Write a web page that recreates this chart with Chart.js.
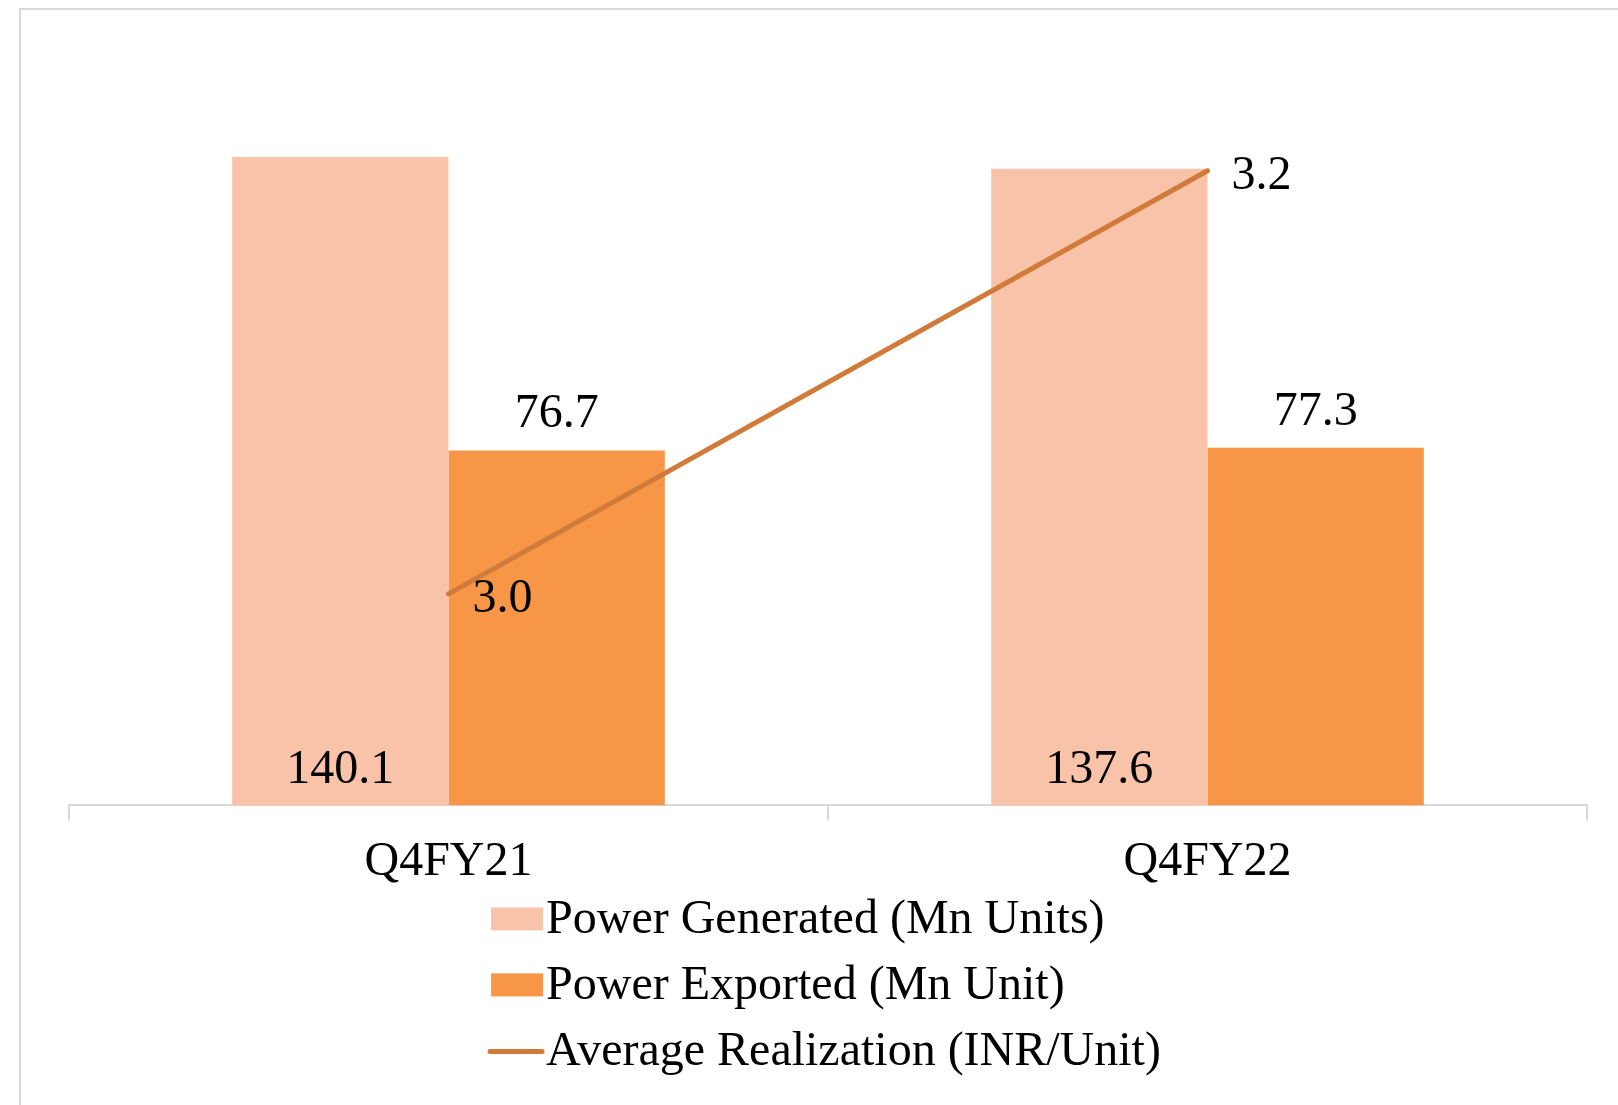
<!DOCTYPE html>
<html>
<head>
<meta charset="utf-8">
<script src="https://cdn.jsdelivr.net/npm/chart.js@4.4.1/dist/chart.umd.min.js"></script>
<style>
    html, body { margin: 0; padding: 0; background: #fff; overflow: hidden; }
    #wrap { position: relative; width: 1618px; height: 1105px; }
    #frame {
        position: absolute; left: 19px; top: 8px; width: 2000px; height: 2000px;
        border: 2px solid #d9d9d9; box-sizing: border-box;
    }
    #powerChart { position: absolute; left: 0; top: 0; }
</style>
</head>
<body>
<div id="wrap">
    <div id="frame"></div>
    <canvas id="powerChart" width="1618" height="1105"></canvas>
</div>
<script>
const quarters = ['Q4FY21', 'Q4FY22'];
const powerGenerated = [140.1, 137.6];
const powerExported = [76.7, 77.3];
const avgRealization = [3.0, 3.2];

const seriesNames = [
    'Power Generated (Mn Units)',
    'Power Exported (Mn Unit)',
    'Average Realization (INR/Unit)'
];

const FONT = "'Liberation Serif', 'Times New Roman', serif";
const FONT_SIZE = 48;

// value labels drawn next to the bars and line points
const valueLabels = {
    id: 'valueLabels',
    afterDatasetsDraw(chart) {
        const ctx = chart.ctx;
        ctx.save();
        ctx.font = FONT_SIZE + 'px ' + FONT;
        ctx.fillStyle = '#000';
        ctx.textBaseline = 'alphabetic';

        chart.getDatasetMeta(0).data.forEach((bar, i) => {
            ctx.textAlign = 'center';
            ctx.fillText(powerGenerated[i].toFixed(1), bar.x, bar.base - 22);
        });
        chart.getDatasetMeta(1).data.forEach((bar, i) => {
            ctx.textAlign = 'center';
            ctx.fillText(powerExported[i].toFixed(1), bar.x, bar.y - 23);
        });
        chart.getDatasetMeta(2).data.forEach((pt, i) => {
            ctx.textAlign = 'left';
            ctx.fillText(avgRealization[i].toFixed(1), pt.x + 24, pt.y + 18);
        });
        ctx.restore();
    }
};

// vertical legend under the axis, left aligned column centred on the chart
const columnLegend = {
    id: 'columnLegend',
    afterDraw(chart) {
        const ctx = chart.ctx;
        const area = chart.chartArea;
        const ds = chart.data.datasets;
        ctx.save();
        ctx.font = FONT_SIZE + 'px ' + FONT;
        const widths = seriesNames.map(n => ctx.measureText(n).width);
        const blockW = 57 + Math.max(...widths);
        const left = (area.left + area.right) / 2 - blockW / 2 - 3;
        ctx.textAlign = 'left';
        ctx.textBaseline = 'alphabetic';
        ds.forEach((d, i) => {
            const baseY = area.bottom + 128 + i * 66;
            const midY = baseY - 14;
            if (d.type === 'line') {
                ctx.strokeStyle = d.borderColor;
                ctx.lineWidth = 5;
                ctx.lineCap = 'round';
                ctx.beginPath();
                ctx.moveTo(left + 1, midY);
                ctx.lineTo(left + 53, midY);
                ctx.stroke();
            } else {
                ctx.fillStyle = d.backgroundColor;
                ctx.fillRect(left + 2, midY - 12, 52, 23);
            }
            ctx.fillStyle = '#000';
            ctx.fillText(seriesNames[i], left + 57, baseY);
        });
        ctx.restore();
    }
};

new Chart(document.getElementById('powerChart'), {
    type: 'bar',
    data: {
        labels: quarters,
        datasets: [
            {
                label: seriesNames[0],
                data: powerGenerated,
                backgroundColor: '#f9c3a9',
                barPercentage: 1,
                categoryPercentage: 0.57,
                yAxisID: 'y',
                order: 1
            },
            {
                label: seriesNames[1],
                data: powerExported,
                backgroundColor: '#f79646',
                barPercentage: 1,
                categoryPercentage: 0.57,
                yAxisID: 'y',
                order: 2
            },
            {
                type: 'line',
                label: seriesNames[2],
                data: avgRealization,
                borderColor: '#d07b3a',
                borderWidth: 5,
                borderCapStyle: 'round',
                pointRadius: 0,
                fill: false,
                yAxisID: 'y1',
                order: 0
            }
        ]
    },
    options: {
        responsive: false,
        animation: false,
        layout: {
            padding: { left: 69, right: 31, top: 65, bottom: 201 }
        },
        plugins: {
            legend: { display: false },
            tooltip: { enabled: false }
        },
        scales: {
            x: {
                offset: true,
                grid: {
                    display: true,
                    offset: true,
                    drawOnChartArea: false,
                    drawTicks: true,
                    tickLength: 15,
                    color: '#d9d9d9',
                    lineWidth: 2
                },
                border: { display: true, color: '#d9d9d9', width: 2 },
                ticks: {
                    color: '#000',
                    padding: 13,
                    font: { family: FONT, size: FONT_SIZE }
                }
            },
            y: {
                display: false,
                min: 0,
                max: 160
            },
            y1: {
                display: false,
                position: 'right',
                min: 2.9,
                max: 3.25
            }
        }
    },
    plugins: [valueLabels, columnLegend]
});
</script>
</body>
</html>
